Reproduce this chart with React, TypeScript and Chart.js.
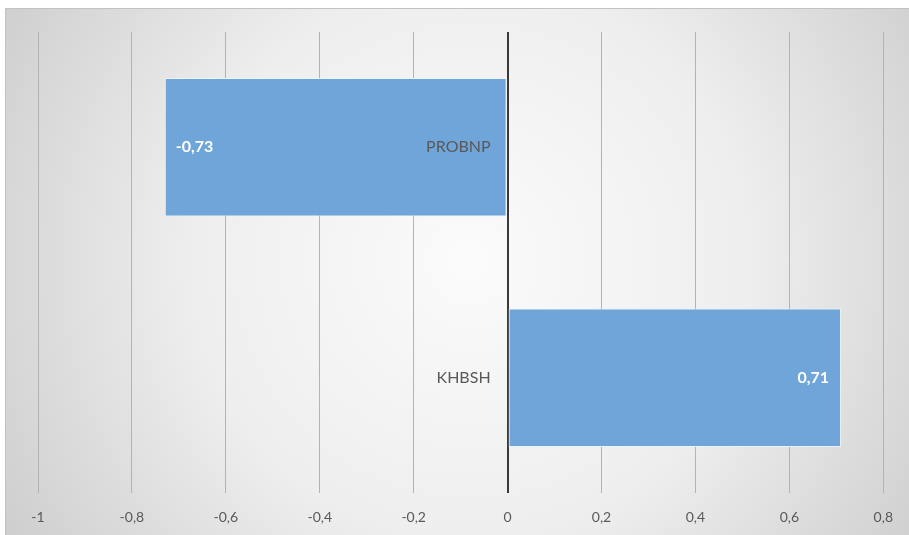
import React, { useEffect, useRef } from "react";
import { Chart, registerables } from "chart.js";

Chart.register(...registerables);

// Correlation values per marker
const categories = ["PROBNP", "KHBSH"];
const values = [-0.73, 0.71];

// Horizontal axis range and step
const axisMin = -1;
const axisMax = 0.8;
const axisStep = 0.2;

const FONT = "Lato, 'Open Sans', sans-serif";
const BAR_COLOR = "#6fa5d9";
const TEXT_GRAY = "#595959";

const formatComma = (v: number) => {
  const r = Math.round(v * 10) / 10;
  if (r === 0) return "0";
  return String(r).replace(".", ",");
};

// Paints the gradient panel behind everything
const panelBackground = {
  id: "panelBackground",
  beforeDraw(chart: any) {
    const { ctx, width, height } = chart;
    ctx.save();
    ctx.fillStyle = "#ffffff";
    ctx.fillRect(0, 0, width, height);
    const left = 5;
    const top = 8;
    const g = ctx.createRadialGradient(470, 260, 0, 470, 260, 620);
    g.addColorStop(0, "#fbfbfb");
    g.addColorStop(0.45, "#eeeeee");
    g.addColorStop(1, "#c4c4c4");
    ctx.fillStyle = g;
    ctx.fillRect(left, top, width - left, height - top);
    ctx.strokeStyle = "#c2c2c2";
    ctx.lineWidth = 1;
    ctx.beginPath();
    ctx.moveTo(left + 0.5, height);
    ctx.lineTo(left + 0.5, top + 0.5);
    ctx.lineTo(width, top + 0.5);
    ctx.stroke();
    ctx.restore();
  },
};

// Category names beside the zero line and value labels inside the bar ends
const barLabels = {
  id: "barLabels",
  afterDatasetsDraw(chart: any) {
    const { ctx } = chart;
    const xScale = chart.scales.x;
    const yScale = chart.scales.y;
    const zeroX = xScale.getPixelForValue(0);
    ctx.save();
    ctx.textBaseline = "middle";

    ctx.font = `16px ${FONT}`;
    ctx.fillStyle = TEXT_GRAY;
    ctx.textAlign = "right";
    categories.forEach((name, i) => {
      ctx.fillText(name, zeroX - 17, yScale.getPixelForValue(i));
    });

    const meta = chart.getDatasetMeta(0);
    ctx.font = `bold 16px ${FONT}`;
    ctx.fillStyle = "#ffffff";
    meta.data.forEach((bar: any, i: number) => {
      const v = values[i];
      const text = v.toFixed(2).replace(".", ",");
      if (v < 0) {
        ctx.textAlign = "left";
        ctx.fillText(text, bar.x + 11, bar.y);
      } else {
        ctx.textAlign = "right";
        ctx.fillText(text, bar.x - 12, bar.y);
      }
    });
    ctx.restore();
  },
};

export default function App() {
  const canvasRef = useRef<HTMLCanvasElement | null>(null);

  useEffect(() => {
    if (!canvasRef.current) return;
    const chart = new Chart(canvasRef.current, {
      type: "bar",
      data: {
        labels: categories,
        datasets: [
          {
            data: values,
            backgroundColor: BAR_COLOR,
            borderColor: "rgba(235,243,251,0.9)",
            borderWidth: 1,
            borderSkipped: false,
            categoryPercentage: 1,
            barPercentage: 0.6,
          },
        ],
      },
      options: {
        indexAxis: "y",
        animation: false,
        responsive: false,
        maintainAspectRatio: false,
        layout: { padding: { left: 38, right: 25, top: 32, bottom: 9 } },
        plugins: {
          legend: { display: false },
          tooltip: { enabled: false },
          title: { display: false },
        },
        scales: {
          x: {
            type: "linear",
            min: axisMin,
            max: axisMax,
            border: { display: false },
            afterFit: (scale: any) => {
              scale.height = 33;
            },
            grid: {
              drawTicks: false,
              color: (c: any) => (c.tick && c.tick.value === 0 ? "#3a3a3a" : "#b3b3b3"),
              lineWidth: (c: any) => (c.tick && c.tick.value === 0 ? 2 : 1),
            },
            ticks: {
              stepSize: axisStep,
              padding: 16,
              color: TEXT_GRAY,
              font: { family: FONT, size: 14 },
              callback: (v: any) => formatComma(Number(v)),
            },
          },
          y: {
            display: false,
            grid: { display: false },
          },
        },
      },
      plugins: [panelBackground, barLabels],
    });
    return () => chart.destroy();
  }, []);

  return (
    <div style={{ position: "fixed", left: 0, top: 0, width: 909, height: 535 }}>
      <canvas ref={canvasRef} width={909} height={535} style={{ display: "block" }} />
    </div>
  );
}
